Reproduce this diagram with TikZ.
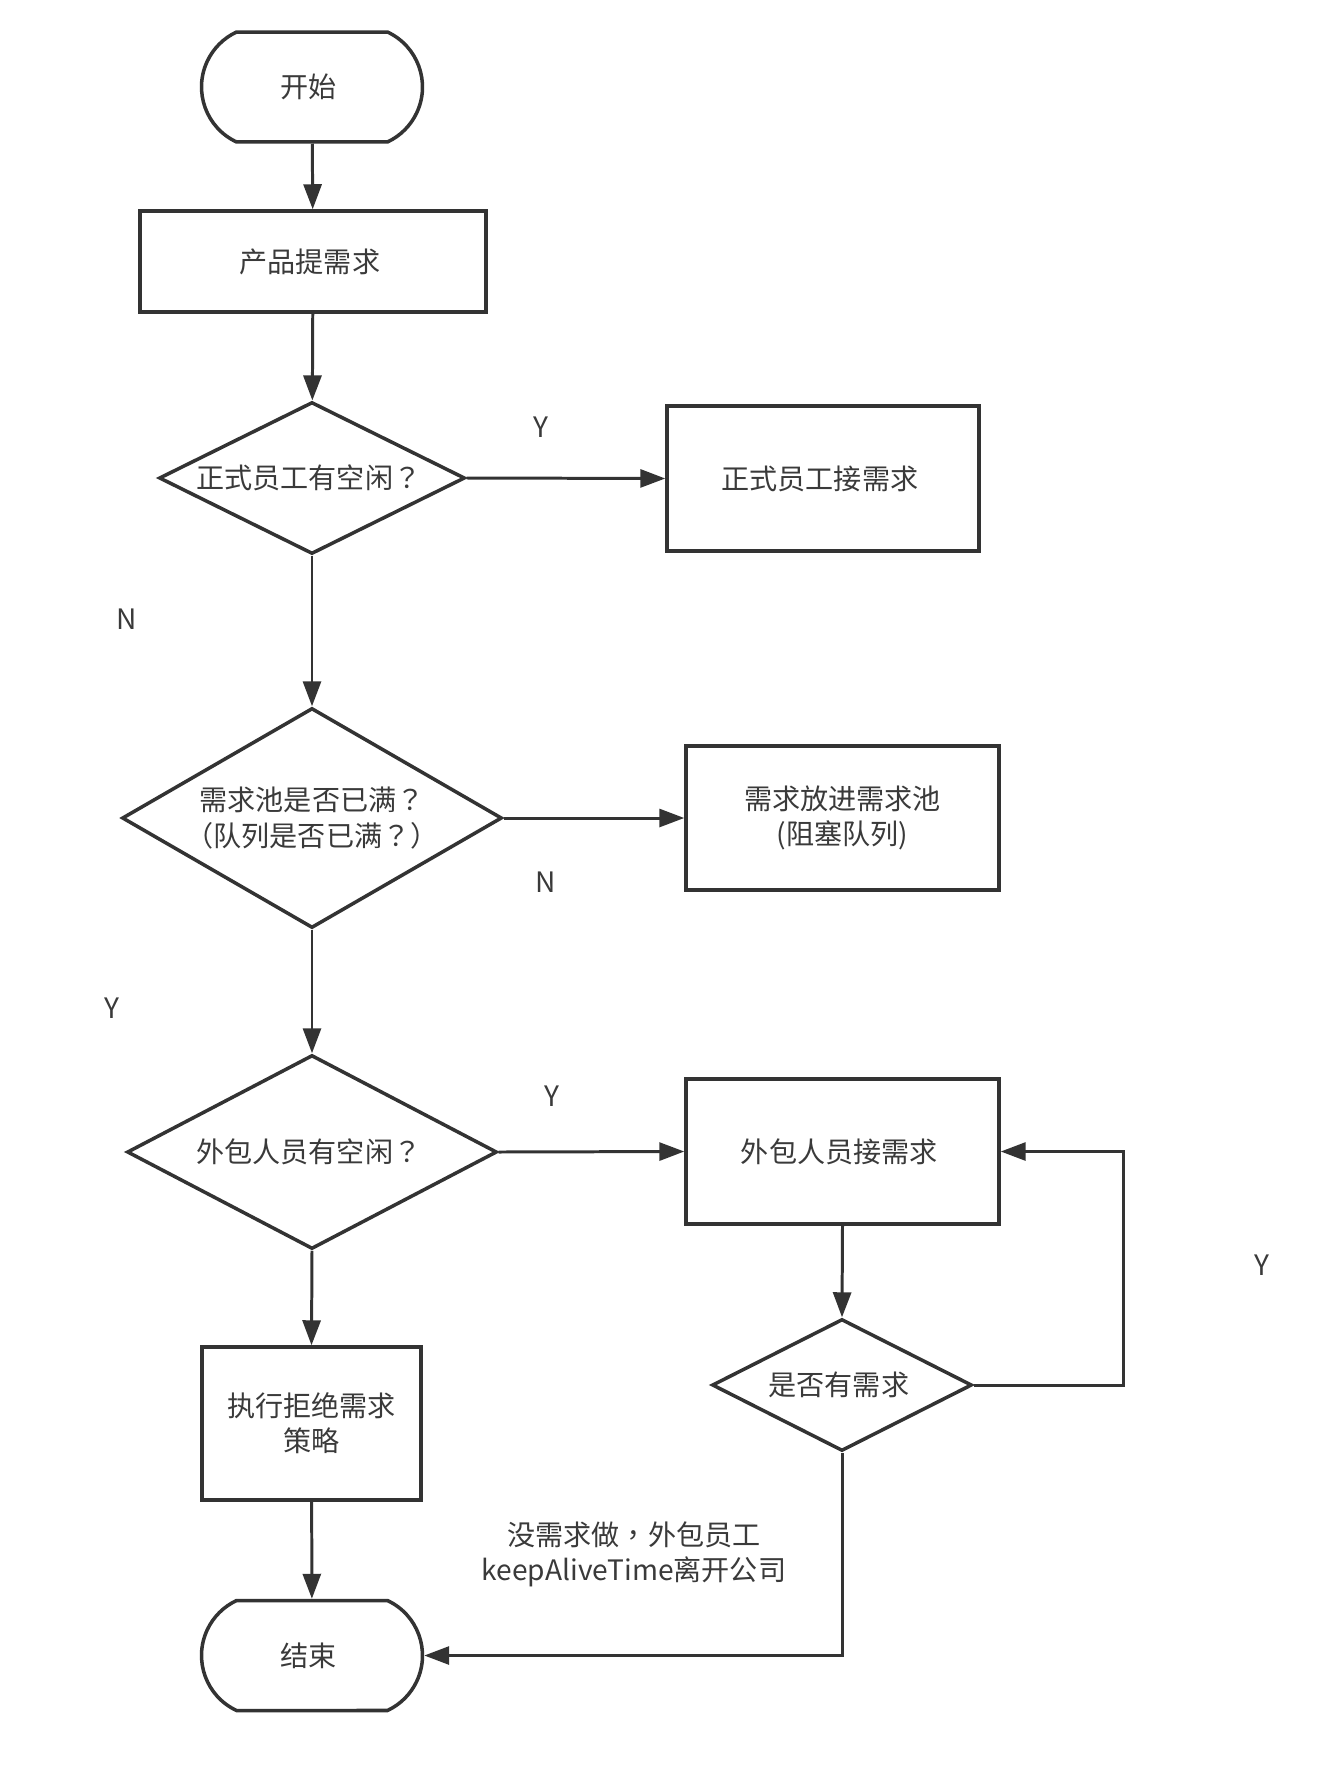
\documentclass[tikz,border=0pt]{standalone}
\usepackage{fontspec}
\newfontfamily\cjk{Noto Sans CJK SC}
\newfontfamily\cjkpunct{Noto Sans CJK TC}
\newcommand{\punct}[1]{{\cjkpunct #1}}
\usetikzlibrary{arrows.meta,shapes.geometric,shapes.misc}
\usepackage{xcolor}
\definecolor{linegray}{HTML}{333333}
\definecolor{textgray}{HTML}{3A3A3A}

\begin{document}
\begin{tikzpicture}[x=0.02cm, y=-0.02cm,
    every node/.style={
        font=\cjk\fontsize{16}{20}\selectfont,
        text=textgray,
        align=center,
        inner sep=0pt
    },
    terminal/.style={rounded rectangle, rounded rectangle arc length=130,
        draw=linegray, line width=2pt, minimum width=4.42cm, minimum height=2.2cm},
    process/.style={rectangle, draw=linegray, line width=2pt},
    decision/.style={diamond, aspect=2, draw=linegray, line width=2pt},
    flow/.style={-{Triangle[length=0.5cm, width=0.36cm]}, linegray, line width=1.7pt}
]
    \useasboundingbox[fill=white] (0, 0) rectangle (1318, 1784);
    \node (start) [terminal, shift={(312, 87)}]
    {
        开始
    };
    \node (submit_request) [process, minimum width=6.92cm, minimum height=2.02cm, shift={(313, 261.5)}]
    {
        产品提需求
    };
    \node (staff_idle) [decision, minimum width=6.12cm, minimum height=3.04cm, shift={(312, 478)}]
    {
        正式员工有空闲\punct{？}
    };
    \node (staff_take) [process, minimum width=6.24cm, minimum height=2.9cm, shift={(823, 478.5)}]
    {
        正式员工接需求
    };
    \node (pool_full) [decision, minimum width=7.6cm, minimum height=4.4cm, shift={(312, 818)}]
    {
        需求池是否已满\punct{？}\\\punct{（}队列是否已满\punct{？）}
    };
    \node (pool_put) [process, minimum width=6.26cm, minimum height=2.88cm, shift={(842.5, 818)}]
    {
        需求放进需求池\\(阻塞队列)
    };
    \node (outsource_idle) [decision, minimum width=7.4cm, minimum height=3.88cm, shift={(312, 1152)}]
    {
        外包人员有空闲\punct{？}
    };
    \node (outsource_take) [process, minimum width=6.26cm, minimum height=2.9cm, shift={(842.5, 1151.5)}]
    {
        外包人员接需求
    };
    \node (has_request) [decision, minimum width=5.2cm, minimum height=2.64cm, shift={(842, 1385)}]
    {
        是否有需求
    };
    \node (reject_policy) [process, minimum width=4.38cm, minimum height=3.06cm, shift={(311.5, 1423.5)}]
    {
        执行拒绝需求\\策略
    };
    \node (finish) [terminal, shift={(312, 1655.5)}]
    {
        结束
    };
    % labels
    \node (staff_yes) [shift={(541, 427)}] {Y};
    \node (staff_no) [shift={(127, 619)}] {N};
    \node (pool_no) [shift={(546, 882)}] {N};
    \node (pool_yes) [shift={(112, 1008)}] {Y};
    \node (outsource_yes) [shift={(552, 1096)}] {Y};
    \node (loop_yes) [shift={(1262, 1265)}] {Y};
    \node (leave_note) [shift={(634, 1554)}]
    {
        没需求做\punct{，}外包员工\\keepAliveTime离开公司
    };
    \coordinate (loop_corner) at (1123, 1385);
    \draw[flow] (start) to (submit_request);
    \draw[flow] (submit_request) to (staff_idle);
    \draw[flow] (staff_idle.east) to (staff_take.west);
    \draw[flow] (staff_idle.south) to (pool_full.north);
    \draw[flow] (pool_full.east) to (pool_put.west);
    \draw[flow] (pool_full.south) to (outsource_idle.north);
    \draw[flow] (outsource_idle.east) to (outsource_take.west);
    \draw[flow] (outsource_idle.south) to (reject_policy.north);
    \draw[flow] (outsource_take.south) to (has_request.north);
    \draw[flow] (has_request.east) -- (loop_corner) |- (outsource_take.east);
    \draw[flow] (has_request.south) |- (finish.east);
    \draw[flow] (reject_policy) to (finish);
\end{tikzpicture}
\end{document}
